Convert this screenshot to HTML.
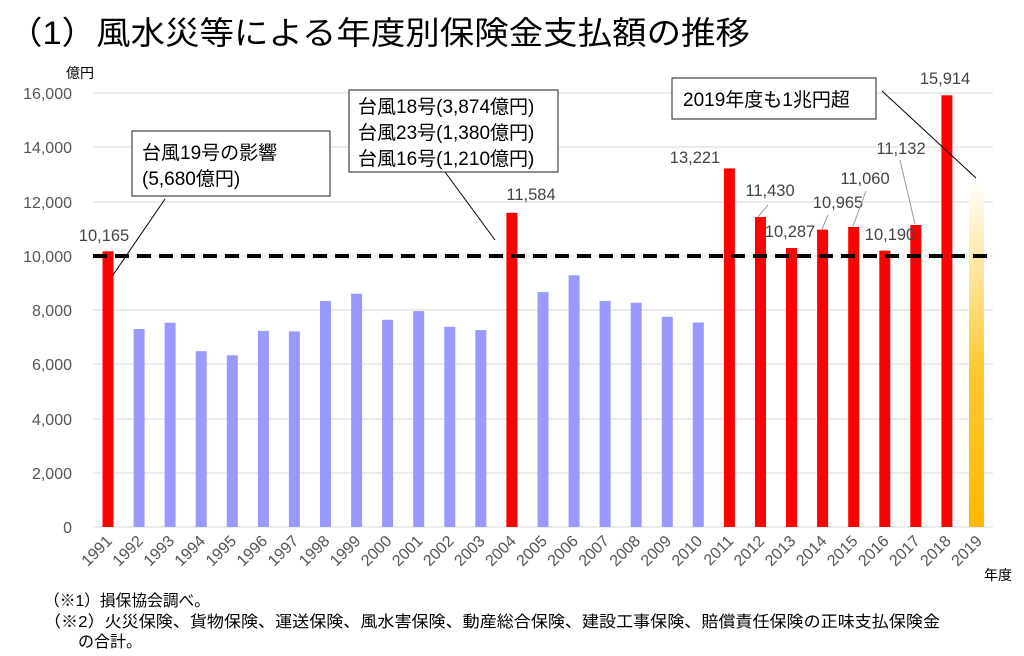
<!DOCTYPE html><html><head><meta charset="utf-8"><style>body{margin:0;background:#fff}svg{display:block}text{font-family:"Liberation Sans","Noto Sans CJK JP",sans-serif}</style></head><body>
<svg width="1024" height="656" viewBox="0 0 1024 656" xmlns="http://www.w3.org/2000/svg">
<defs><linearGradient id="g" x1="0" y1="0" x2="0" y2="1"><stop offset="0" stop-color="#fff"/><stop offset="0.55" stop-color="#ffc830"/><stop offset="1" stop-color="#ffb800"/></linearGradient></defs>
<text x="8" y="44" font-size="32" fill="#000" font-family="Noto Sans CJK JP, sans-serif" textLength="742" lengthAdjust="spacingAndGlyphs">（1）風水災等による年度別保険金支払額の推移</text>
<text x="66" y="78" font-size="14">億円</text>
<g stroke="#d9d9d9" stroke-width="1">
<line x1="93" x2="993" y1="93" y2="93"/><line x1="93" x2="993" y1="147" y2="147"/><line x1="93" x2="993" y1="202" y2="202"/><line x1="93" x2="993" y1="256" y2="256"/><line x1="93" x2="993" y1="310" y2="310"/><line x1="93" x2="993" y1="364" y2="364"/><line x1="93" x2="993" y1="419" y2="419"/><line x1="93" x2="993" y1="473" y2="473"/><line x1="93" x2="993" y1="527" y2="527"/></g>
<g font-size="16" fill="#555" text-anchor="end">
<text x="72" y="99">16,000</text><text x="72" y="153">14,000</text><text x="72" y="208">12,000</text><text x="72" y="262">10,000</text><text x="72" y="316">8,000</text><text x="72" y="370">6,000</text><text x="72" y="425">4,000</text><text x="72" y="479">2,000</text><text x="72" y="533">0</text></g>
<g fill="#9999ff">
<rect x="133.6" y="329" width="11" height="198"/><rect x="164.6" y="322.8" width="11" height="204.2"/><rect x="195.7" y="351.2" width="11" height="175.8"/><rect x="226.8" y="355.3" width="11" height="171.7"/><rect x="257.9" y="330.9" width="11" height="196.1"/><rect x="288.9" y="331.4" width="11" height="195.6"/><rect x="320" y="301" width="11" height="226"/><rect x="351.1" y="293.7" width="11" height="233.3"/><rect x="382.1" y="319.8" width="11" height="207.2"/><rect x="413.2" y="311.1" width="11" height="215.9"/><rect x="444.3" y="326.8" width="11" height="200.2"/><rect x="475.3" y="330.1" width="11" height="196.9"/>
<rect x="537.5" y="292.1" width="11" height="234.9"/><rect x="568.6" y="275.3" width="11" height="251.7"/><rect x="599.6" y="301" width="11" height="226"/><rect x="630.7" y="302.7" width="11" height="224.3"/><rect x="661.8" y="316.8" width="11" height="210.2"/><rect x="692.8" y="322.5" width="11" height="204.5"/></g>
<g fill="#ff0000">
<rect x="102.5" y="251.3" width="11" height="275.7"/><rect x="506.4" y="212.8" width="11" height="314.2"/><rect x="723.9" y="168.4" width="11" height="358.6"/><rect x="755" y="217" width="11" height="310"/><rect x="786" y="248" width="11" height="279"/><rect x="817.1" y="229.6" width="11" height="297.4"/><rect x="848.2" y="227" width="11" height="300"/><rect x="879.3" y="250.6" width="11" height="276.4"/><rect x="910.3" y="225" width="11" height="302"/><rect x="941.4" y="95.3" width="11" height="431.7"/></g>
<rect x="969" y="180" width="15" height="347" fill="url(#g)"/>
<line x1="93" x2="990" y1="256" y2="256" stroke="#000" stroke-width="4" stroke-dasharray="14,8"/>
<g font-size="16" fill="#555" text-anchor="end">
<text transform="translate(113,542) rotate(-45)">1991</text><text transform="translate(144.07,542) rotate(-45)">1992</text><text transform="translate(175.14,542) rotate(-45)">1993</text><text transform="translate(206.21,542) rotate(-45)">1994</text><text transform="translate(237.28,542) rotate(-45)">1995</text><text transform="translate(268.35,542) rotate(-45)">1996</text><text transform="translate(299.42,542) rotate(-45)">1997</text><text transform="translate(330.49,542) rotate(-45)">1998</text><text transform="translate(361.56,542) rotate(-45)">1999</text><text transform="translate(392.63,542) rotate(-45)">2000</text><text transform="translate(423.7,542) rotate(-45)">2001</text><text transform="translate(454.77,542) rotate(-45)">2002</text><text transform="translate(485.84,542) rotate(-45)">2003</text><text transform="translate(516.91,542) rotate(-45)">2004</text><text transform="translate(547.98,542) rotate(-45)">2005</text><text transform="translate(579.05,542) rotate(-45)">2006</text><text transform="translate(610.12,542) rotate(-45)">2007</text><text transform="translate(641.19,542) rotate(-45)">2008</text><text transform="translate(672.26,542) rotate(-45)">2009</text><text transform="translate(703.33,542) rotate(-45)">2010</text><text transform="translate(734.4,542) rotate(-45)">2011</text><text transform="translate(765.47,542) rotate(-45)">2012</text><text transform="translate(796.54,542) rotate(-45)">2013</text><text transform="translate(827.61,542) rotate(-45)">2014</text><text transform="translate(858.68,542) rotate(-45)">2015</text><text transform="translate(889.75,542) rotate(-45)">2016</text><text transform="translate(920.82,542) rotate(-45)">2017</text><text transform="translate(951.89,542) rotate(-45)">2018</text><text transform="translate(982.96,542) rotate(-45)">2019</text></g>
<g font-size="16.5" fill="#444" text-anchor="middle">
<text x="104" y="241">10,165</text><text x="531" y="200">11,584</text><text x="695" y="163">13,221</text><text x="770" y="196">11,430</text><text x="790" y="237">10,287</text><text x="838" y="208">10,965</text><text x="865" y="184">11,060</text><text x="890" y="240">10,190</text><text x="901" y="154">11,132</text><text x="945" y="84">15,914</text></g>
<g stroke="#999" stroke-width="1"><line x1="768" y1="205" x2="758" y2="217"/><line x1="828" y1="215" x2="822" y2="229"/><line x1="866" y1="191" x2="853" y2="226"/><line x1="900" y1="160" x2="915" y2="224"/></g>
<g stroke="#000" stroke-width="1"><line x1="165" y1="199" x2="113" y2="275"/><line x1="445" y1="172" x2="495" y2="240"/><line x1="882" y1="91" x2="976" y2="178"/></g>
<g fill="#fff" stroke="#444" stroke-width="1.2"><rect x="132" y="131" width="198" height="65"/><rect x="349" y="90" width="209" height="82"/><rect x="672" y="78" width="204" height="41"/></g>
<g font-size="19" fill="#000"><text x="142" y="159">台風19号の影響</text><text x="142" y="185">(5,680億円)</text>
<text x="358" y="113">台風18号(3,874億円)</text><text x="358" y="139">台風23号(1,380億円)</text><text x="358" y="165">台風16号(1,210億円)</text>
<text x="683" y="106">2019年度も1兆円超</text></g>
<text x="984" y="580" font-size="14">年度</text>
<g font-size="16" fill="#000" font-family="Noto Sans CJK JP, sans-serif"><text x="44" y="606" textLength="166" lengthAdjust="spacingAndGlyphs">（※1）損保協会調べ。</text><text x="44" y="627" textLength="896" lengthAdjust="spacingAndGlyphs">（※2）火災保険、貨物保険、運送保険、風水害保険、動産総合保険、建設工事保険、賠償責任保険の正味支払保険金</text><text x="78" y="647">の合計。</text></g>
</svg></body></html>
